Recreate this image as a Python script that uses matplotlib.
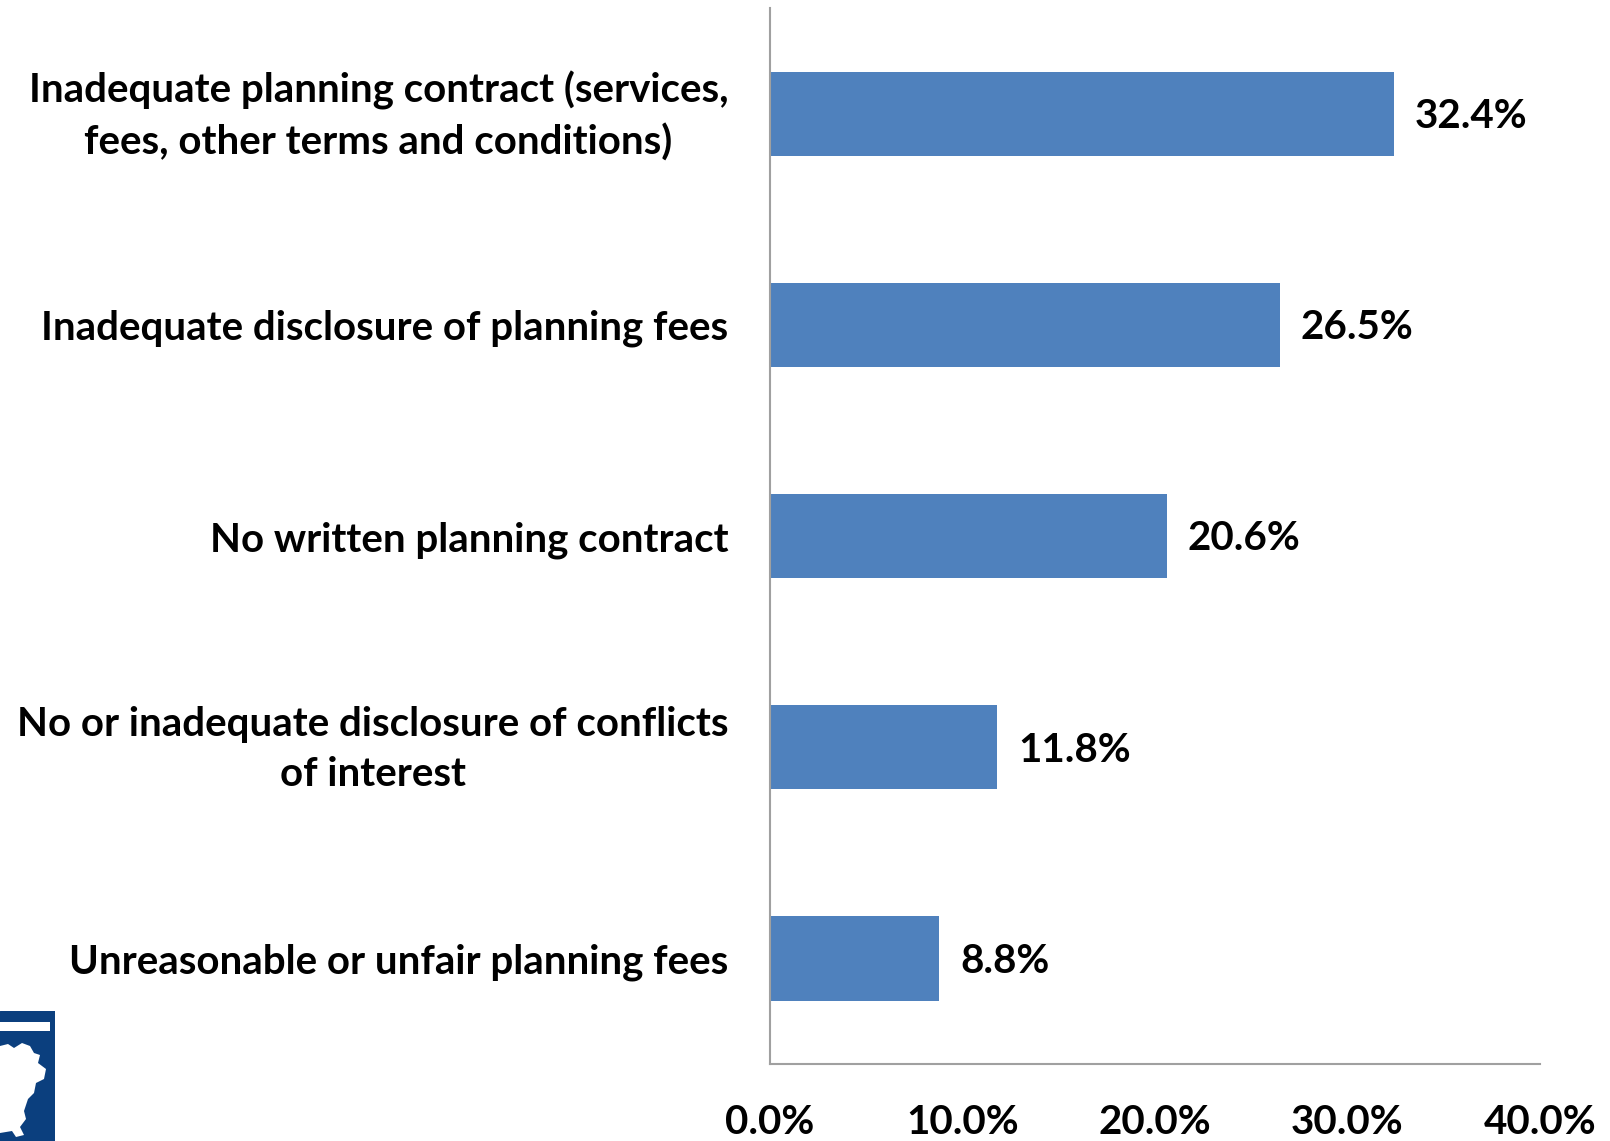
import matplotlib.pyplot as plt
import matplotlib.transforms as mtransforms
from matplotlib.patches import Rectangle, Polygon

categories = [
    "Inadequate planning contract (services,\nfees, other terms and conditions)",
    "Inadequate disclosure of planning fees",
    "No written planning contract",
    "No or inadequate disclosure of conflicts\nof interest",
    "Unreasonable or unfair planning fees",
]
values = [32.4, 26.5, 20.6, 11.8, 8.8]
xticks = [0, 10, 20, 30, 40]

BAR_COLOR = "#4F81BD"
NAVY = "#0B3F7E"
FONT = "Lato"
SIZE = 29

fig = plt.figure(figsize=(16.1, 11.41), dpi=100)
ax = fig.add_axes([0.4783, 0.0675, 0.4782, 0.9253])

ypos = list(range(len(categories)))
ax.barh(ypos, values, height=0.4, color=BAR_COLOR)
ax.set_ylim(len(categories) - 0.5, -0.5)
ax.set_xlim(0, 40)

for y, v in zip(ypos, values):
    ax.annotate(f"{v:.1f}%", (v, y), xytext=(15, -2), textcoords="offset points",
                va="center", ha="left", fontsize=SIZE, fontweight="bold",
                family=FONT)

ax.set_yticks(ypos)
ax.set_yticklabels(categories, fontsize=SIZE, fontweight="bold", family=FONT,
                   multialignment="center", linespacing=1.45)
ax.tick_params(axis="y", length=0, pad=30)

# two-line labels sit a little low, nudge them up
nudge = mtransforms.ScaledTranslation(0, 8 / 100, fig.dpi_scale_trans)
for lbl in ax.get_yticklabels():
    if "\n" in lbl.get_text():
        lbl.set_transform(lbl.get_transform() + nudge)

ax.set_xticks(xticks)
ax.set_xticklabels([f"{t:.1f}%" for t in xticks], fontsize=SIZE,
                   fontweight="bold", family=FONT)
ax.tick_params(axis="x", length=0, pad=29)

for side in ["top", "right"]:
    ax.spines[side].set_visible(False)
for side in ["left", "bottom"]:
    ax.spines[side].set_color("#A0A0A0")
    ax.spines[side].set_linewidth(1.5)

# small logo block in the lower left corner
logo = fig.add_axes([0, 0, 55 / 1610, 130 / 1141])
logo.set_xlim(0, 55)
logo.set_ylim(0, 130)
logo.axis("off")
logo.add_patch(Rectangle((0, 0), 55, 130, color=NAVY))
logo.add_patch(Rectangle((0, 110), 50, 9, facecolor="white", edgecolor="none"))
logo.add_patch(Polygon([(0, 95), (8, 97), (14, 93), (22, 98), (30, 95), (34, 88),
                        (40, 86), (38, 78), (46, 72), (44, 62), (36, 58), (34, 48),
                        (28, 42), (24, 30), (26, 22), (20, 14), (24, 6), (16, 4),
                        (12, 10), (0, 8)], closed=True, facecolor="white",
                       edgecolor="none"))

fig.savefig("out.png", dpi=100)
